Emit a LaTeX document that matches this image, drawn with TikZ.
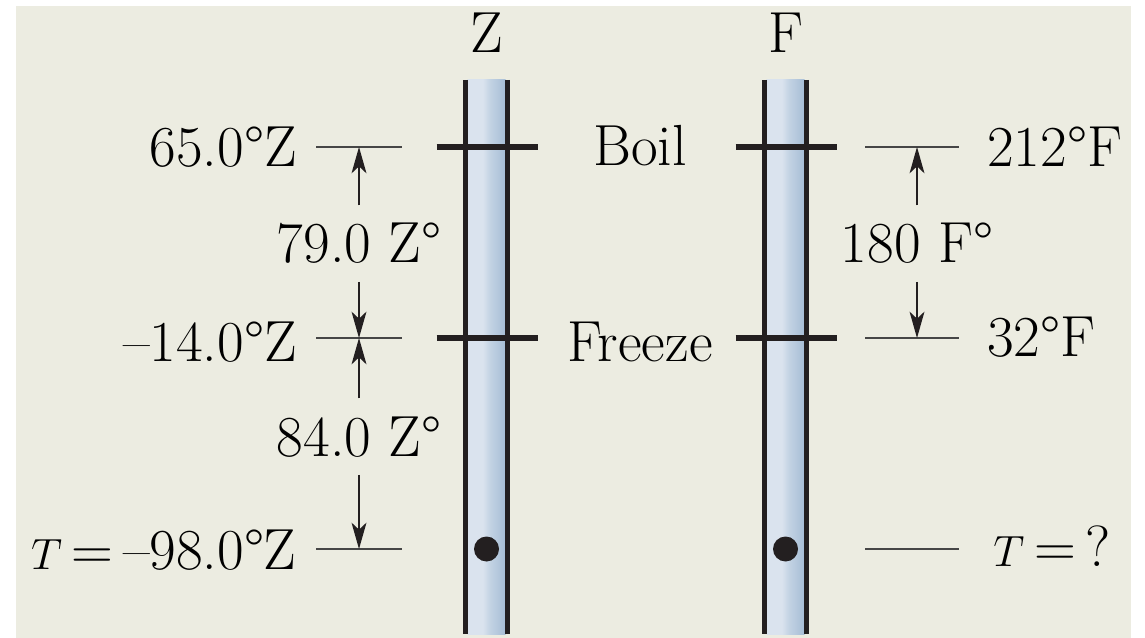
\documentclass[tikz,border=0pt]{standalone}
\usepackage{tikz}
\usetikzlibrary{positioning,arrows.meta}
\definecolor{paperbeige}{RGB}{236,236,225}
\definecolor{inkdark}{RGB}{35,31,32}
\definecolor{guidegray}{RGB}{70,70,70}
\definecolor{tubelight}{RGB}{218,227,238}
\definecolor{tubemid}{RGB}{194,210,227}
\definecolor{tubedark}{RGB}{132,163,196}
\pgfdeclarehorizontalshading{tubeshade}{100bp}{color(0bp)=(tubemid); color(25bp)=(tubelight); color(45bp)=(tubelight); color(55bp)=(tubemid); color(100bp)=(tubedark)}

\begin{document}
\begin{tikzpicture}[x=0.02cm,y=-0.02cm,
  lbl/.style={font=\fontsize{33}{40}\selectfont,inner sep=0pt},
  dimlbl/.style={lbl,inner xsep=0pt,inner ysep=10pt},
  wall/.style={line width=3pt,color=inkdark},
  tickmark/.style={line width=2.9pt,color=inkdark},
  guide/.style={line width=0.75pt,color=guidegray},
  dimarr/.style={-{Stealth[length=15pt,width=8.5pt,inset=4pt]},line width=0.75pt,color=inkdark}]
  % paper
  \fill[white] (0,0) rectangle (1145,638);
  \fill[paperbeige] (16,6) rectangle (1131,638);
  \useasboundingbox (0,0) rectangle (1145,638);

  % the two thermometer tubes
  \foreach \tx/\tn in {486.5/Z,785.5/F}{
    \shade[shading=tubeshade] (\tx-19,80) rectangle (\tx+19,634);
    \draw[wall] (\tx-21,80) -- (\tx-21,634);
    \draw[wall] (\tx+21,80) -- (\tx+21,634);
    \draw[tickmark] (\tx-50,147) -- (\tx+51,147);
    \draw[tickmark] (\tx-50,338) -- (\tx+51,338);
    \fill[inkdark] (\tx,549) circle[radius=0.25cm];
    \node[lbl,anchor=base] (head\tn) at (\tx,53) {\tn};
  }

  \node[lbl,anchor=base] (boil)   at (640,166) {Boil};
  \node[lbl,anchor=base] (freeze) at (640,361) {Freeze};

  % Z scale
  \node[lbl,anchor=base east] (zboil)   at (297,167) {65.0°Z};
  \node[lbl,anchor=base east] (zfreeze) at (297,361) {--14.0°Z};
  \node[lbl,anchor=base east] (zmeas)   at (297,569) {$T$\,=\,--98.0°Z};
  \draw[guide] (316,147) -- (402,147);
  \draw[guide] (316,338) -- (402,338);
  \draw[guide] (316,549) -- (402,549);
  \coordinate (zb) at (359,147);
  \coordinate (zf) at (359,338);
  \coordinate (zm) at (359,549);
  \node[dimlbl,anchor=base] (zgapa) at (359,263) {79.0 Z°};
  \node[dimlbl,anchor=base] (zgapb) at (359,456) {84.0 Z°};
  \draw[dimarr] (zgapa.north) -- (zb);
  \draw[dimarr] (zgapa.south) -- (zf);
  \draw[dimarr] (zgapb.north) -- (zf);
  \draw[dimarr] (zgapb.south) -- (zm);

  % F scale
  \node[lbl,anchor=base west] (fboil)   at (987,167) {212°F};
  \node[lbl,anchor=base west] (ffreeze) at (987,357) {32°F};
  \node[lbl,anchor=base west] (fmeas)   at (993,566) {$T$\,=\,?};
  \draw[guide] (865,147) -- (959,147);
  \draw[guide] (865,338) -- (959,338);
  \draw[guide] (865,549) -- (959,549);
  \coordinate (fb) at (917,147);
  \coordinate (ff) at (917,338);
  \node[dimlbl,anchor=base] (fgap) at (917,263) {180 F°};
  \draw[dimarr] (fgap.north) -- (fb);
  \draw[dimarr] (fgap.south) -- (ff);
\end{tikzpicture}
\end{document}
